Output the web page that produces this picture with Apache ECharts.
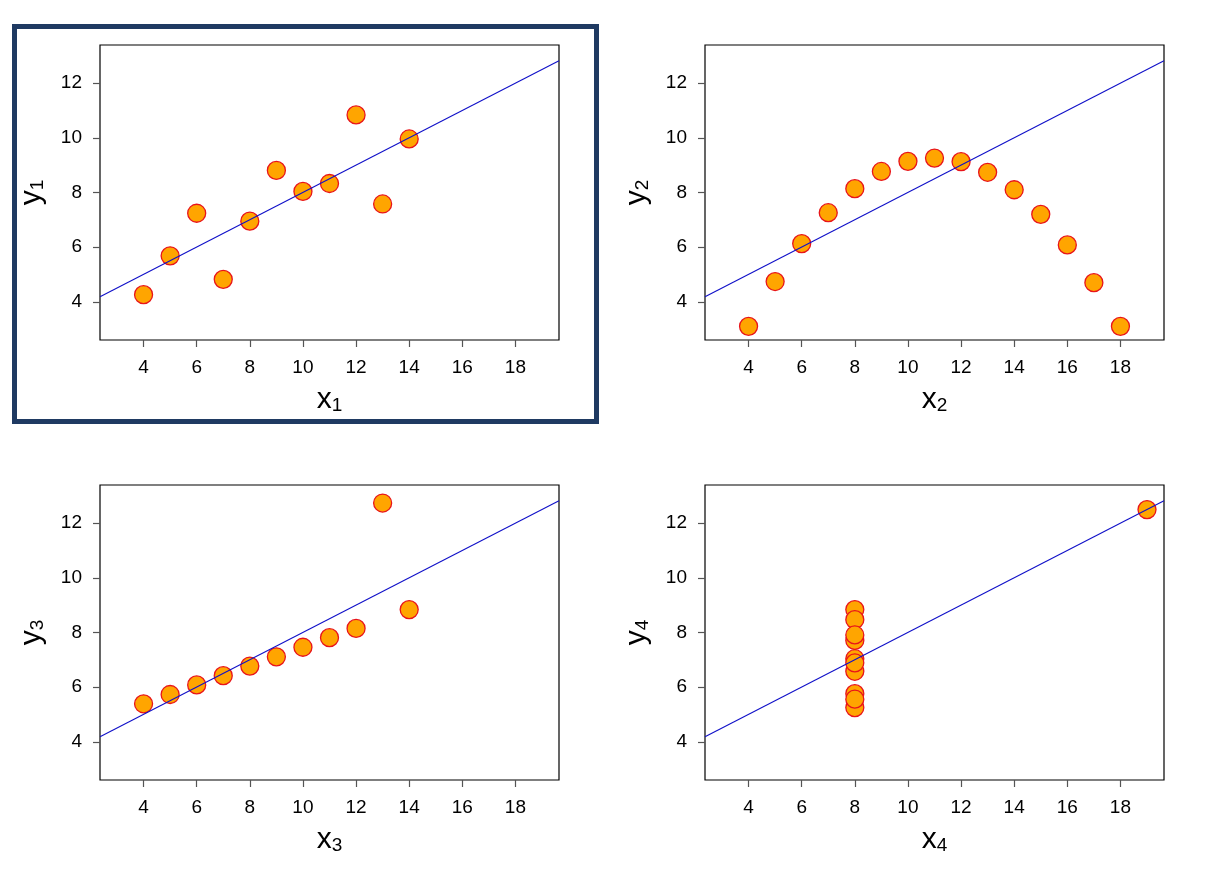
<!DOCTYPE html>
<html>
<head>
<meta charset="utf-8">
<script src="https://cdn.jsdelivr.net/npm/echarts@6/dist/echarts.min.js"></script>
<style>
  html, body { margin: 0; padding: 0; background: #fff; }
  #main { width: 1210px; height: 880px; }
</style>
</head>
<body>
<div id="main"></div>
<script>
// Anscombe's quartet
var x1 = [10, 8, 13, 9, 11, 14, 6, 4, 12, 7, 5];
var y1 = [8.04, 6.95, 7.58, 8.81, 8.33, 9.96, 7.24, 4.26, 10.84, 4.82, 5.68];
var x2 = [4, 5, 6, 7, 8, 9, 10, 11, 12, 13, 14, 15, 16, 17, 18];
var y2 = [3.1, 4.74, 6.13, 7.26, 8.14, 8.77, 9.14, 9.26, 9.13, 8.74, 8.1, 7.2, 6.08, 4.7, 3.1];
var x3 = [10, 8, 13, 9, 11, 14, 6, 4, 12, 7, 5];
var y3 = [7.46, 6.77, 12.74, 7.11, 7.81, 8.84, 6.08, 5.39, 8.15, 6.42, 5.73];
var x4 = [8, 8, 8, 8, 8, 8, 8, 19, 8, 8, 8];
var y4 = [6.58, 5.76, 7.71, 8.84, 8.47, 7.04, 5.25, 12.5, 5.56, 7.91, 6.89];

// fitted line y = a + b*x (same for all four)
var fitA = 3.0;
var fitB = 0.5;

var xTicks = [4, 6, 8, 10, 12, 14, 16, 18];
var yTicks = [4, 6, 8, 10, 12];
var xMin = 2.36, xMax = 19.64;
var yMin = 2.6, yMax = 13.4;

var panels = [
  { x: x1, y: y1, n: '1', left: 100, top: 45 },
  { x: x2, y: y2, n: '2', left: 705, top: 45 },
  { x: x3, y: y3, n: '3', left: 100, top: 485 },
  { x: x4, y: y4, n: '4', left: 705, top: 485 }
];

var font = 'Liberation Sans, Arial, Helvetica, sans-serif';

function nameStyle() {
  return {
    fontFamily: font,
    rich: {
      v: { fontSize: 30, fontFamily: font, color: '#000' },
      s: { fontSize: 19, fontFamily: font, color: '#000', padding: [11, 0, 0, 0] }
    }
  };
}

var grid = [], xAxis = [], yAxis = [], series = [];
panels.forEach(function (p, i) {
  grid.push({
    left: p.left, top: p.top, width: 459, height: 295,
    show: true, borderColor: '#000', borderWidth: 1.2, backgroundColor: '#fff'
  });
  xAxis.push({
    gridIndex: i, type: 'value', min: xMin, max: xMax,
    name: '{v|x}{s|' + p.n + '}', nameLocation: 'middle', nameGap: 45,
    nameTextStyle: nameStyle(),
    axisLine: { show: false },
    splitLine: { show: false },
    axisTick: { show: true, inside: false, length: 7, customValues: xTicks,
      lineStyle: { color: '#555', width: 1.2 } },
    axisLabel: { customValues: xTicks, fontSize: 19, fontFamily: font, color: '#000', margin: 18 }
  });
  yAxis.push({
    gridIndex: i, type: 'value', min: yMin, max: yMax,
    name: '{v|y}{s|' + p.n + '}', nameLocation: 'middle', nameGap: 53,
    nameTextStyle: nameStyle(),
    axisLine: { show: false },
    splitLine: { show: false },
    axisTick: { show: true, inside: false, length: 7, customValues: yTicks,
      lineStyle: { color: '#555', width: 1.2 } },
    axisLabel: { customValues: yTicks, fontSize: 19, fontFamily: font, color: '#000', margin: 18 }
  });
  series.push({
    type: 'scatter', xAxisIndex: i, yAxisIndex: i,
    data: p.x.map(function (v, k) { return [v, p.y[k]]; }),
    symbolSize: 18,
    itemStyle: { color: '#ffa500', borderColor: '#e8141a', borderWidth: 1.3, opacity: 1 },
    z: 2
  });
  series.push({
    type: 'line', xAxisIndex: i, yAxisIndex: i,
    data: [[xMin, fitA + fitB * xMin], [xMax, fitA + fitB * xMax]],
    showSymbol: false, symbol: 'none',
    lineStyle: { color: '#1010c8', width: 1.1 },
    z: 3, silent: true
  });
});

var myChart = echarts.init(document.getElementById('main'));
myChart.setOption({
  animation: false,
  backgroundColor: '#fff',
  grid: grid,
  xAxis: xAxis,
  yAxis: yAxis,
  series: series,
  graphic: [{
    type: 'rect', z: 100,
    shape: { x: 14.5, y: 26.5, width: 582, height: 395 },
    style: { fill: 'none', stroke: '#1f3a62', lineWidth: 5 }
  }]
});
</script>
</body>
</html>
